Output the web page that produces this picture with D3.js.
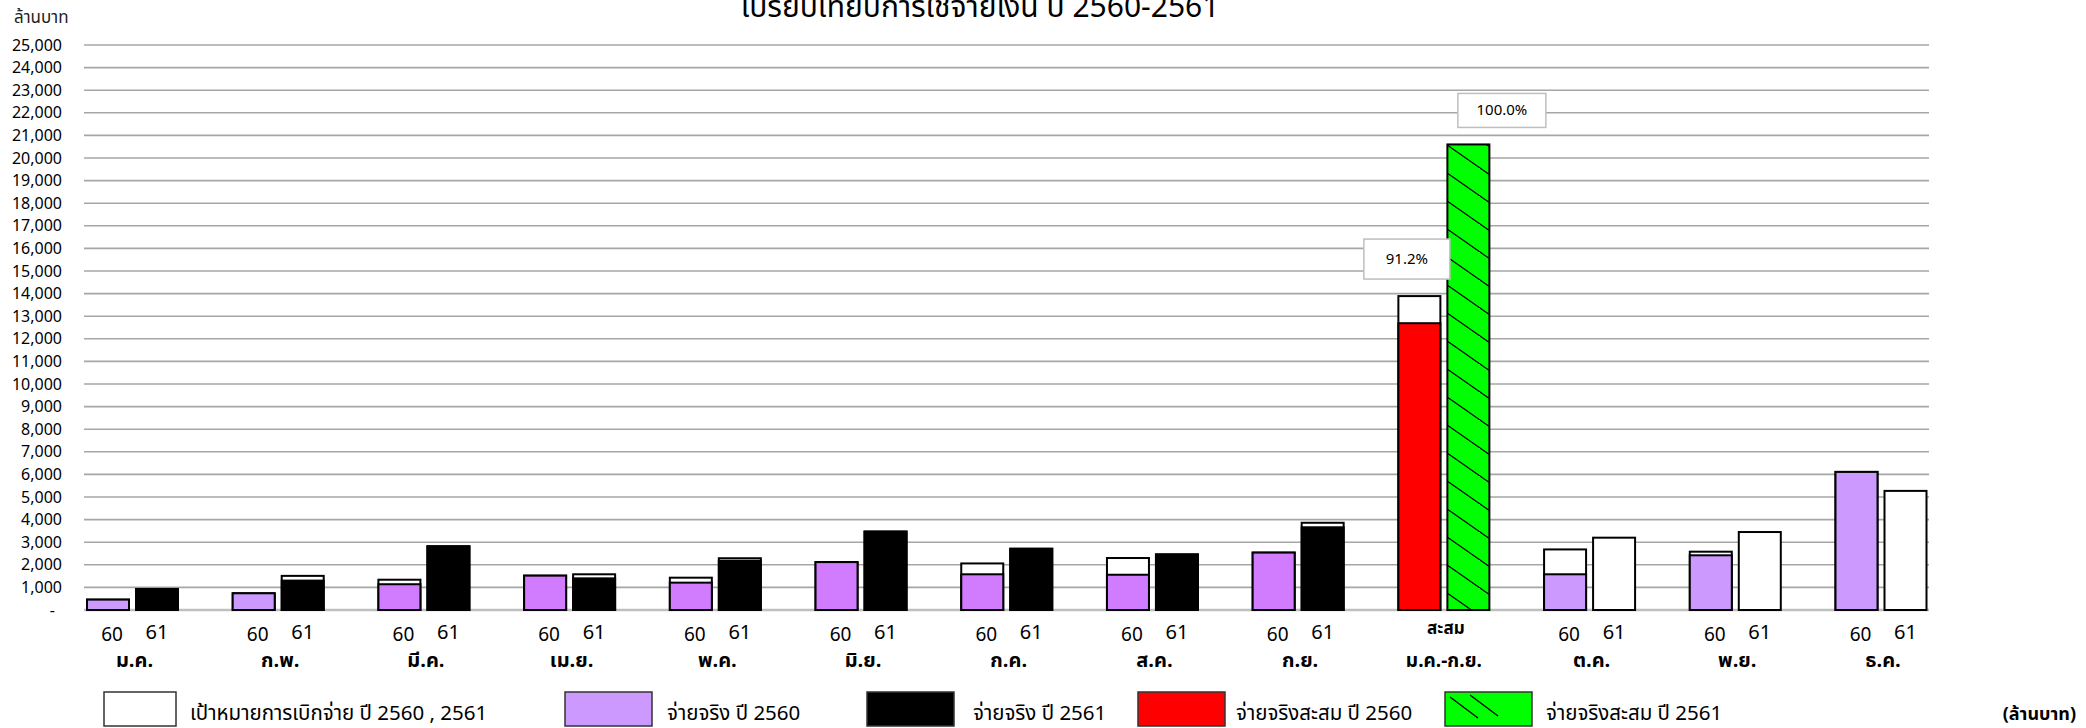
<!DOCTYPE html>
<html>
<head>
<meta charset="utf-8">
<script src="https://cdn.jsdelivr.net/npm/d3@7/dist/d3.min.js"></script>
<style>
  html, body { margin: 0; padding: 0; background: #fff; }
  svg { display: block; }
  text { font-family: "Noto Sans Thai", "Leelawadee UI", Tahoma, "DejaVu Sans", "Noto Sans", sans-serif; }
</style>
</head>
<body>
<svg id="chart" width="2086" height="728"></svg>
<script>
// ---------- data ----------
const categories = ["ม.ค.", "ก.พ.", "มี.ค.", "เม.ย.", "พ.ค.", "มิ.ย.", "ก.ค.", "ส.ค.", "ก.ย.", "ม.ค.-ก.ย.", "ต.ค.", "พ.ย.", "ธ.ค."];
const cumulativeCategory = "ม.ค.-ก.ย.";
const highlightMonths = ["มี.ค.", "เม.ย.", "พ.ค.", "มิ.ย.", "ก.ค.", "ส.ค.", "ก.ย."];
const target2560 = [460, 740, 1340, 1520, 1430, 2120, 2060, 2300, 2540, 13890, 2680, 2580, 6110];
const actual2560 = [460, 740, 1140, 1520, 1210, 2120, 1580, 1560, 2540, 12690, 1580, 2420, 6110];
const target2561 = [930, 1510, 2820, 1580, 2290, 3470, 2710, 2460, 3860, 20600, 3200, 3450, 5270];
const actual2561 = [930, 1300, 2820, 1400, 2180, 3470, 2710, 2460, 3660, 20600, null, null, null];
const yearTickLabels = ["60", "61"];
const cumulativeTopLabel = "สะสม";
const cumulativePercent = ["91.2%", "100.0%"];
const yTicks = d3.range(0, 25001, 1000);
const titleText = "เปรียบเทียบการใช้จ่ายเงิน ปี 2560-2561";
const unitText = "ล้านบาท";
const unitTextRight = "(ล้านบาท)";
const legendLabels = ["เป้าหมายการเบิกจ่าย ปี 2560 , 2561", "จ่ายจริง ปี 2560", "จ่ายจริง ปี 2561", "จ่ายจริงสะสม ปี 2560", "จ่ายจริงสะสม ปี 2561"];

// ---------- setup ----------
const svg = d3.select("#chart");
const C = {
  light: "#CC99FF", purple: "#D17BFF", black: "#000000", white: "#FFFFFF",
  red: "#FF0000", green: "#00FF00", grid: "#A6A6A6"
};

const y = d3.scaleLinear().domain([0, 25000]).range([610, 45]);
const x = d3.scalePoint().domain(categories).range([132.5, 1881]);
const barW = 42, gap = 3.5;
const gridX0 = 84, gridX1 = 1929;

const defs = svg.append("defs");
const pat = defs.append("pattern").attr("id", "hatch").attr("patternUnits", "userSpaceOnUse")
  .attr("width", 40).attr("height", 28);
pat.append("rect").attr("width", 40).attr("height", 28).attr("fill", C.green);
pat.append("path").attr("d", "M-4,-2.8 L44,30.8 M-44,-2.8 L4,30.8 M36,-30.8 L84,2.8")
  .attr("stroke", "#000").attr("stroke-width", 1.2);

// title (clipped at top as in reference)
svg.append("text").attr("x", 980).attr("y", 17).attr("text-anchor", "middle")
  .attr("font-size", 30).attr("fill", "#000").text(titleText);

svg.append("text").attr("x", 14).attr("y", 23).attr("font-size", 17).attr("fill", "#222").text(unitText);

// gridlines
svg.append("g").selectAll("line").data(yTicks).join("line")
  .attr("x1", gridX0).attr("x2", gridX1)
  .attr("y1", d => y(d)).attr("y2", d => y(d))
  .attr("stroke", d => d === 0 ? "#BFBFBF" : C.grid).attr("stroke-width", d => d === 0 ? 2.5 : 1.6);

// y tick labels
svg.append("g").selectAll("text").data(yTicks).join("text")
  .attr("x", d => d === 0 ? 55 : 62).attr("y", d => y(d) + 5.5)
  .attr("text-anchor", "end").attr("font-size", 16)
  .attr("font-family", "'Liberation Sans', Arial, sans-serif").attr("fill", "#000")
  .text(d => d === 0 ? "-" : d3.format(",")(d));

const bars = svg.append("g");
function bar(xl, v, fill) {
  if (v == null) return;
  bars.append("rect").attr("x", xl).attr("y", y(v)).attr("width", barW).attr("height", y(0) - y(v))
    .attr("fill", fill).attr("stroke", "#000").attr("stroke-width", 2);
}

categories.forEach((c, i) => {
  const cx = x(c);
  const x60 = cx - gap - barW, x61 = cx + gap;
  if (c === cumulativeCategory) {
    bar(x60, target2560[i], C.white);
    bar(x60, actual2560[i], C.red);
    bar(x61, actual2561[i], "url(#hatch)");
  } else {
    bar(x60, target2560[i], C.white);
    bar(x60, actual2560[i], highlightMonths.includes(c) ? C.purple : C.light);
    bar(x61, target2561[i], C.white);
    bar(x61, actual2561[i], C.black);
  }
});

// percent labels for cumulative group
(function () {
  const i = categories.indexOf(cumulativeCategory);
  const cx = x(cumulativeCategory);
  const boxes = [
    { cx: cx - 37, cy: y(target2560[i]) - 37, w: 86, h: 40, t: cumulativePercent[0] },
    { cx: cx + 58, cy: y(actual2561[i]) - 34, w: 88, h: 34, t: cumulativePercent[1] }
  ];
  const g = svg.append("g");
  boxes.forEach(b => {
    g.append("rect").attr("x", b.cx - b.w / 2).attr("y", b.cy - b.h / 2).attr("width", b.w).attr("height", b.h)
      .attr("fill", "#fff").attr("stroke", "#BFBFBF").attr("stroke-width", 1.5);
    g.append("text").attr("x", b.cx).attr("y", b.cy + 5).attr("text-anchor", "middle")
      .attr("font-size", 15).attr("fill", "#000").text(b.t);
  });
})();

// x labels
const xl = svg.append("g");
categories.forEach(c => {
  const cx = x(c);
  if (c === cumulativeCategory) {
    xl.append("text").attr("x", cx + 2).attr("y", 634).attr("text-anchor", "middle")
      .attr("font-size", 17).attr("font-weight", "bold").text(cumulativeTopLabel);
    xl.append("text").attr("x", cx).attr("y", 667).attr("text-anchor", "middle")
      .attr("font-size", 19).attr("font-weight", "bold").text(c);
  } else {
    xl.append("text").attr("x", cx - 20.5).attr("y", 641).attr("text-anchor", "middle")
      .attr("font-size", 19).text(yearTickLabels[0]);
    xl.append("text").attr("x", cx + 24.5).attr("y", 639).attr("text-anchor", "middle")
      .attr("font-size", 20).text(yearTickLabels[1]);
    xl.append("text").attr("x", cx + 2).attr("y", 667).attr("text-anchor", "middle")
      .attr("font-size", 20).attr("font-weight", "bold").text(c);
  }
});

// legend
const legendItems = [
  { bx: 104, bw: 72, fill: C.white, tx: 190, label: legendLabels[0] },
  { bx: 565, bw: 87, fill: C.light, tx: 667, label: legendLabels[1] },
  { bx: 867, bw: 87, fill: C.black, tx: 973, label: legendLabels[2] },
  { bx: 1138, bw: 87, fill: C.red, tx: 1236, label: legendLabels[3] },
  { bx: 1445, bw: 87, fill: C.green, tx: 1546, label: legendLabels[4], hatch: true }
];
const lg = svg.append("g");
legendItems.forEach(d => {
  lg.append("rect").attr("x", d.bx).attr("y", 692).attr("width", d.bw).attr("height", 34)
    .attr("fill", d.fill).attr("stroke", "#333").attr("stroke-width", 1.5);
  if (d.hatch) {
    lg.append("line").attr("x1", d.bx + 5).attr("y1", 697).attr("x2", d.bx + 33).attr("y2", 718).attr("stroke", "#000").attr("stroke-width", 1.3);
    lg.append("line").attr("x1", d.bx + 25).attr("y1", 695).attr("x2", d.bx + 53).attr("y2", 716).attr("stroke", "#000").attr("stroke-width", 1.3);
  }
  lg.append("text").attr("x", d.tx).attr("y", 720).attr("font-size", 20.5).attr("fill", "#000").text(d.label);
});
svg.append("text").attr("x", 2076).attr("y", 720).attr("text-anchor", "end")
  .attr("font-size", 18).attr("font-weight", "bold").text(unitTextRight);
</script>
</body>
</html>
